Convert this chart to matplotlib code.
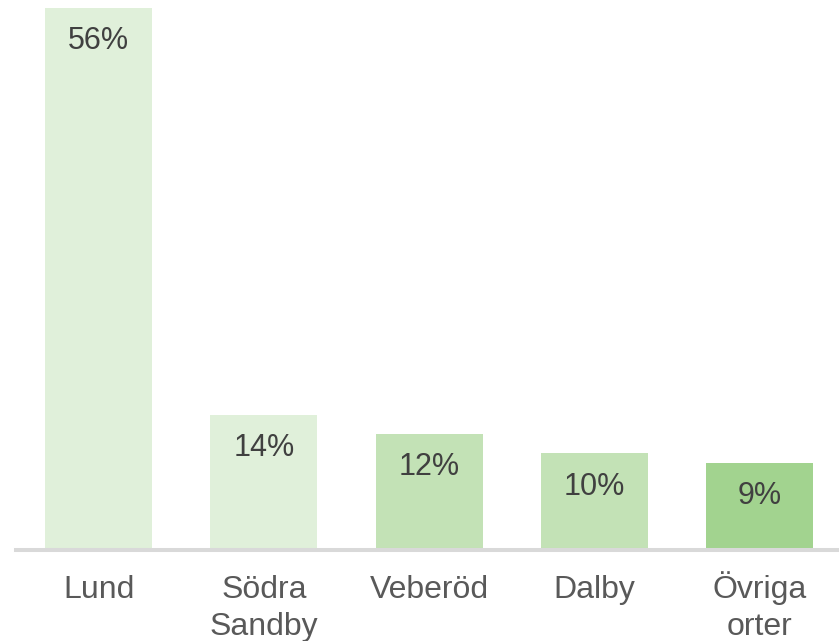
import matplotlib
matplotlib.use("Agg")
import matplotlib.pyplot as plt
import matplotlib.transforms as mtransforms

categories = ["Lund", "Södra\nSandby", "Veberöd", "Dalby", "Övriga\norter"]
values = [56, 14, 12, 10, 9]
labels = ["56%", "14%", "12%", "10%", "9%"]
colors = ["#E0F0DA", "#E0F0DA", "#C3E2B6", "#C3E2B6", "#A2D38F"]

plt.rcParams['font.family'] = ['Liberation Sans', 'DejaVu Sans']

W, H = 839, 641
fig = plt.figure(figsize=(W / 100, H / 100), dpi=100)
left = 16 / W
bottom = 91 / H
top = 8 / H
ax = fig.add_axes([left, bottom, 826.5 / W, 1 - bottom - top])

x = list(range(len(categories)))
bars = ax.bar(x, values, width=0.647, color=colors, zorder=1)
ax.set_xlim(-0.5, 4.5)
ax.set_ylim(0, 56)

for xi, v, lab in zip(x, values, labels):
    ax.annotate(lab, (xi, v), xytext=(0, -24), textcoords='offset points',
                ha='center', va='center', fontsize=22, color='#404040')

ax.set_xticks(x)
ax.set_xticklabels([])
ax.tick_params(axis='x', length=0)
trans = ax.get_xaxis_transform() + mtransforms.ScaledTranslation(0, -34.5 / 72, fig.dpi_scale_trans)
for xi, cat in zip(x, categories):
    lines = cat.split("\n")
    for i, line in enumerate(lines):
        t2 = trans + mtransforms.ScaledTranslation(0, -i * 37 / 100, fig.dpi_scale_trans)
        ax.text(xi, 0, line, transform=t2, ha='center', va='baseline',
                fontsize=23, color='#595959')
ax.set_yticks([])
for s in ['top', 'right', 'left']:
    ax.spines[s].set_visible(False)
ax.spines['bottom'].set_color('#D9D9D9')
ax.spines['bottom'].set_linewidth(2.9)
ax.spines['bottom'].set_zorder(3)

fig.savefig("out.png", dpi=100, facecolor='white')
